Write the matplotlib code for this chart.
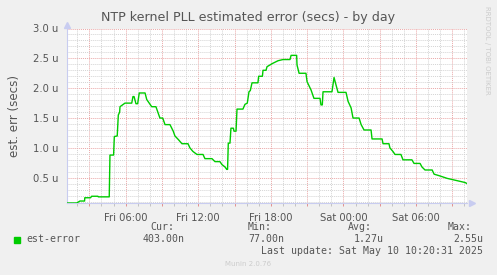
import matplotlib
matplotlib.use('Agg')
import matplotlib.pyplot as plt
from matplotlib.ticker import MultipleLocator, FuncFormatter

# time in hours since Fri 00:00, value in microseconds
hours = [1.15, 1.95, 2.22, 2.60, 2.62, 3.10, 3.18, 3.70, 3.74, 4.64,
         4.70, 5.00, 5.06, 5.30, 5.39, 5.50, 5.53, 5.94, 6.50, 6.60,
         6.69, 6.85, 6.99, 7.12, 7.60, 7.74, 8.15, 8.50, 8.69, 8.83,
         9.06, 9.25, 9.66, 9.93, 10.07, 10.35, 10.65, 11.15, 11.31, 11.56,
         11.89, 12.39, 12.55, 13.13, 13.38, 13.79, 13.96, 14.21, 14.35, 14.42,
         14.48, 14.62, 14.70, 14.90, 14.95, 15.12, 15.20, 15.69, 15.86, 16.05,
         16.19, 16.30, 16.44, 16.93, 16.99, 17.30, 17.35, 17.60, 17.68, 17.93,
         18.09, 18.59, 19.00, 19.58, 19.67, 20.13, 20.16, 20.33, 20.90, 20.99,
         21.32, 21.56, 22.06, 22.14, 22.25, 22.31, 23.05, 23.22, 23.39, 23.55,
         24.21, 24.38, 24.63, 24.79, 25.29, 25.46, 25.70, 26.28, 26.36, 27.19,
         27.27, 27.76, 27.84, 28.09, 28.26, 28.75, 28.92, 29.66, 29.83, 30.33,
         30.49, 30.74, 31.33, 31.49, 31.98, 32.56, 33.63, 34.05, 34.21]
est_error = [0.077, 0.077, 0.11, 0.11, 0.165, 0.165, 0.19, 0.19, 0.18, 0.18,
             0.88, 0.88, 1.19, 1.20, 1.55, 1.60, 1.69, 1.75, 1.75, 1.86,
             1.86, 1.74, 1.74, 1.92, 1.92, 1.81, 1.69, 1.69, 1.58, 1.50,
             1.50, 1.39, 1.39, 1.28, 1.20, 1.14, 1.07, 1.07, 1.00, 0.94,
             0.89, 0.89, 0.82, 0.82, 0.77, 0.77, 0.72, 0.68, 0.64, 0.64,
             1.08, 1.08, 1.33, 1.33, 1.28, 1.28, 1.65, 1.65, 1.73, 1.75,
             1.94, 1.96, 2.09, 2.09, 2.20, 2.20, 2.30, 2.30, 2.36, 2.39,
             2.41, 2.46, 2.48, 2.48, 2.55, 2.55, 2.39, 2.25, 2.25, 2.11,
             1.97, 1.83, 1.83, 1.72, 1.72, 1.94, 1.94, 2.18, 2.05, 1.93,
             1.93, 1.78, 1.67, 1.50, 1.50, 1.39, 1.30, 1.30, 1.15, 1.15,
             1.07, 1.07, 1.00, 0.94, 0.89, 0.89, 0.80, 0.80, 0.74, 0.74,
             0.68, 0.63, 0.63, 0.56, 0.53, 0.49, 0.44, 0.42, 0.403]

day_names = {0: 'Fri', 1: 'Sat'}
stats = [('Cur:', '403.00n'), ('Min:', '77.00n'), ('Avg:', '1.27u'), ('Max:', '2.55u')]

BG = '#F0F0F0'
TXT = '#555555'
MONO = 'DejaVu Sans Mono'

fig = plt.figure(figsize=(4.97, 2.75), dpi=100, facecolor=BG)
ax = fig.add_axes([67 / 497, 1 - 203 / 275, 400 / 497, 174.5 / 275])
ax.set_facecolor('white')

ax.plot(hours, est_error, color='#00CC00', lw=1.0, zorder=3)
ax.set_xlim(1.149, 34.21)
ax.set_ylim(0.077, 3.0)

ax.xaxis.set_major_locator(MultipleLocator(3))
ax.xaxis.set_minor_locator(MultipleLocator(1))
ax.yaxis.set_major_locator(MultipleLocator(0.5))
ax.yaxis.set_minor_locator(MultipleLocator(0.1))

def xfmt(h, pos):
    h = int(round(h))
    if h % 6:
        return ''
    return '%s %02d:00' % (day_names[h // 24], h % 24)

ax.xaxis.set_major_formatter(FuncFormatter(xfmt))
ax.yaxis.set_major_formatter(FuncFormatter(lambda v, p: '%.1f u' % v))

ax.grid(which='minor', color='#D4D4D4', ls=(0, (1, 1)), lw=0.7)
ax.grid(which='major', color='#EAA8A8', ls=(0, (1, 1)), lw=0.7)
ax.set_axisbelow(True)

ax.tick_params(which='both', length=2, width=0.6, colors='#BBBBBB', labelcolor=TXT,
               labelsize=7.2, pad=3)
ax.tick_params(axis='x', which='major', colors='#E08080', labelcolor=TXT, pad=5)
ax.tick_params(axis='y', which='both', length=0, pad=6)

for s in ['top', 'right']:
    ax.spines[s].set_visible(False)
for s in ['left', 'bottom']:
    ax.spines[s].set_color('#C8CCF0')
    ax.spines[s].set_linewidth(0.8)
ax.plot([1.012], [0], marker='>', ms=4, color='#C8CCF0', transform=ax.transAxes, clip_on=False)
ax.plot([0], [1.02], marker='^', ms=4, color='#C8CCF0', transform=ax.transAxes, clip_on=False)

ax.set_ylabel('est. err (secs)', color=TXT, fontsize=8.6, labelpad=9)

fig.text(0.5, 1 - 18 / 275, 'NTP kernel PLL estimated error (secs) - by day',
         ha='center', va='center', color=TXT, fontsize=9.1)
fig.text(487 / 497, 1 - 6 / 275, 'RRDTOOL / TOBI OETIKER', rotation=-90,
         ha='center', va='top', color='#CCCCCC', fontsize=5)

# legend block
fig.patches.append(plt.Rectangle((14 / 497, 1 - 243 / 275), 6 / 497, 6 / 275,
                                 transform=fig.transFigure, color='#00CC00'))
fig.text(26 / 497, 1 - 239.5 / 275, 'est-error', ha='left', va='center',
         family=MONO, fontsize=7.1, color=TXT)
label_x = [150, 248, 348, 448]
value_r = [185, 284, 384, 483]
for (lab, val), lx, vr in zip(stats, label_x, value_r):
    fig.text(lx / 497, 1 - 227.5 / 275, lab, ha='left', va='center',
             family=MONO, fontsize=7.1, color=TXT)
    fig.text(vr / 497, 1 - 239.5 / 275, val, ha='right', va='center',
             family=MONO, fontsize=7.1, color=TXT)
fig.text(483 / 497, 1 - 251 / 275, 'Last update: Sat May 10 10:20:31 2025',
         ha='right', va='center', family=MONO, fontsize=7.1, color=TXT)
fig.text(248 / 497, 1 - 264 / 275, 'Munin 2.0.76', ha='center', va='center',
         fontsize=5, color='#CCCCCC')

fig.savefig('out.png', dpi=100, facecolor=BG)
